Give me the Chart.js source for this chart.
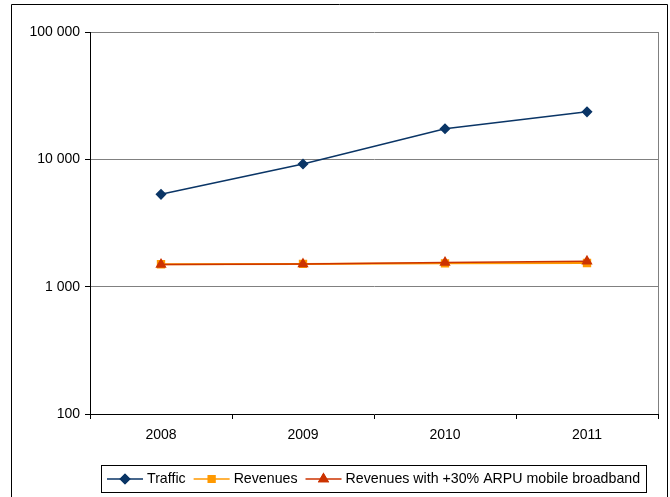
<!DOCTYPE html>
<html>
<head>
<meta charset="utf-8">
<script src="https://cdn.jsdelivr.net/npm/chart.js@4/dist/chart.umd.min.js"></script>
<style>
  html, body { margin: 0; padding: 0; background: #fff; }
  #wrap { width: 670px; height: 497px; }
</style>
</head>
<body>
<div id="wrap"><canvas id="c" width="670" height="497"></canvas></div>
<script>
// Years on the category axis
const years = ['2008', '2009', '2010', '2011'];

// Series values (log scale)
const traffic = [5310, 9190, 17400, 23600];
const revenues = [1500, 1510, 1525, 1535];
const revenuesArpu = [1495, 1505, 1550, 1580];

// Decade ticks shown on the value axis
const yTicks = [100, 1000, 10000, 100000];

const FONT = '"Liberation Sans", Arial, sans-serif';

function spaced(v) {
  return String(v).replace(/\B(?=(\d{3})+(?!\d))/g, ' ');
}

// Outer frame, plot-area edge and the boxed legend with line+marker samples
const framePlugin = {
  id: 'frame',
  beforeDraw(chart) {
    const ctx = chart.ctx;
    ctx.save();
    ctx.fillStyle = '#fff';
    ctx.fillRect(0, 0, chart.width, chart.height);
    ctx.restore();
  },
  beforeDatasetsDraw(chart) {
    const { ctx, chartArea: a } = chart;
    ctx.save();
    ctx.strokeStyle = '#808080';
    ctx.lineWidth = 1;
    ctx.beginPath();
    ctx.moveTo(Math.round(a.right) + 0.5, a.top);
    ctx.lineTo(Math.round(a.right) + 0.5, a.bottom);
    ctx.stroke();
    ctx.restore();
  },
  afterDraw(chart) {
    const ctx = chart.ctx;
    ctx.save();
    // outer chart frame
    ctx.strokeStyle = '#000';
    ctx.lineWidth = 1;
    ctx.beginPath();
    ctx.moveTo(11.5, 497);
    ctx.lineTo(11.5, 4.5);
    ctx.lineTo(667.5, 4.5);
    ctx.lineTo(667.5, 497);
    ctx.stroke();

    // legend box
    ctx.strokeRect(101.5, 465.5, 545, 27);

    ctx.font = '14.2px ' + FONT;
    ctx.textBaseline = 'middle';
    const cy = 479;
    let x = 107;
    const sampleLen = 36;
    chart.data.datasets.forEach((ds) => {
      ctx.strokeStyle = ds.borderColor;
      ctx.lineWidth = 1.5;
      ctx.beginPath();
      ctx.moveTo(x, cy);
      ctx.lineTo(x + sampleLen, cy);
      ctx.stroke();
      Chart.helpers.drawPoint(ctx, {
        pointStyle: ds.pointStyle,
        radius: ds.pointRadius,
        rotation: 0,
        borderWidth: 1
      }, x + sampleLen / 2, cy);
      ctx.fillStyle = ds.pointBackgroundColor;
      ctx.strokeStyle = ds.pointBorderColor;
      ctx.fill();
      ctx.stroke();
      x += sampleLen + 4;
      ctx.fillStyle = '#000';
      ctx.textAlign = 'left';
      ctx.fillText(ds.label, x, cy);
      x += ctx.measureText(ds.label).width + 8;
    });
    ctx.restore();
  }
};

new Chart(document.getElementById('c'), {
  type: 'line',
  data: {
    labels: years,
    datasets: [
      {
        label: 'Traffic',
        data: traffic,
        borderColor: '#0a3566',
        backgroundColor: '#0a3566',
        pointBackgroundColor: '#0a3566',
        pointBorderColor: '#0a3566',
        pointStyle: 'rectRot',
        pointRadius: 4.5,
        borderWidth: 1.5,
        order: 2
      },
      {
        label: 'Revenues',
        data: revenues,
        borderColor: '#ff9900',
        backgroundColor: '#ff9900',
        pointBackgroundColor: '#ff9900',
        pointBorderColor: '#ff9900',
        pointStyle: 'rect',
        pointRadius: 4.5,
        borderWidth: 2,
        order: 1
      },
      {
        label: 'Revenues with +30% ARPU mobile broadband',
        data: revenuesArpu,
        borderColor: '#cc3300',
        backgroundColor: '#cc3300',
        pointBackgroundColor: '#cc3300',
        pointBorderColor: '#cc3300',
        pointStyle: 'triangle',
        pointRadius: 5,
        borderWidth: 1.5,
        order: 0
      }
    ]
  },
  options: {
    responsive: false,
    animation: false,
    layout: { padding: { left: 12, right: 12, top: 32, bottom: 43 } },
    plugins: {
      legend: { display: false },
      tooltip: { enabled: false }
    },
    scales: {
      x: {
        offset: true,
        grid: {
          offset: true,
          drawOnChartArea: false,
          drawTicks: true,
          tickLength: 5,
          tickColor: '#000'
        },
        border: { color: '#000', width: 1 },
        ticks: {
          color: '#000',
          padding: 8,
          font: { family: FONT, size: 14 }
        },
        afterFit(scale) { scale.height = 40; }
      },
      y: {
        type: 'logarithmic',
        min: 100,
        max: 100000,
        afterBuildTicks(scale) {
          scale.ticks = yTicks.map(v => ({ value: v }));
        },
        afterFit(scale) { scale.width = 78; },
        grid: {
          color: (c) => (c.tick && c.tick.value === 100 ? 'rgba(0,0,0,0)' : '#808080'),
          tickColor: '#000',
          tickLength: 5,
          lineWidth: 1
        },
        border: { color: '#000', width: 1 },
        ticks: {
          color: '#000',
          padding: 5,
          autoSkip: false,
          font: { family: FONT, size: 14 },
          callback: (v) => spaced(v)
        }
      }
    }
  },
  plugins: [framePlugin]
});
</script>
</body>
</html>
